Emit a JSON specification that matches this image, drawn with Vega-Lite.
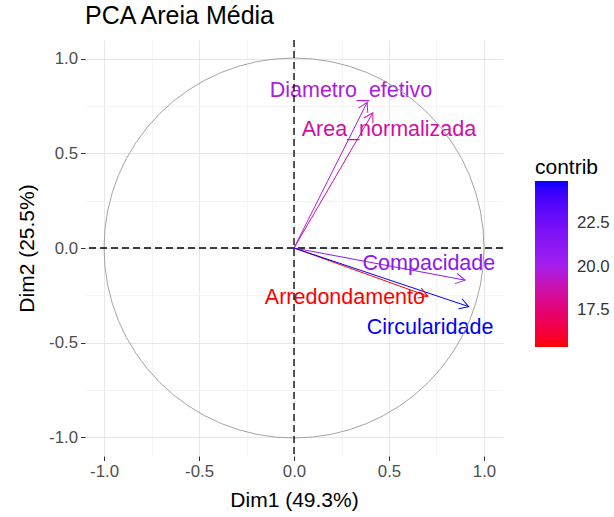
{
  "$schema": "https://vega.github.io/schema/vega-lite/v6.json",
  "width": 418,
  "height": 416,
  "autosize": "none",
  "padding": {"left": 85, "top": 40, "right": 111, "bottom": 61},
  "background": "white",
  "config": {
    "font": "Liberation Sans",
    "view": {"stroke": null},
    "axis": {
      "domain": false,
      "labelFont": "Liberation Sans",
      "labelFontSize": 16.8,
      "labelColor": "#4D4D4D",
      "titleFont": "Liberation Sans",
      "titleFontSize": 21,
      "titleFontWeight": "normal",
      "titleColor": "black",
      "tickColor": "#333333",
      "tickSize": 4.5,
      "tickWidth": 1,
      "labelPadding": 3,
      "gridColor": {"condition": {"test": "datum.value % 0.5 !== 0", "value": "#F1F1F1"}, "value": "#E6E6E6"},
      "gridWidth": {"condition": {"test": "datum.value % 0.5 !== 0", "value": 0.8}, "value": 1},
      "tickOpacity": {"condition": {"test": "datum.value % 0.5 !== 0", "value": 0}, "value": 1}
    }
  },
  "title": {
    "text": "PCA Areia Média",
    "anchor": "start",
    "frame": "group",
    "fontSize": 25,
    "font": "Liberation Sans",
    "fontWeight": "normal",
    "color": "black",
    "baseline": "alphabetic",
    "offset": -10
  },
  "data": {
    "values": [
      {"name": "Diametro_efetivo", "x": 0.385, "y": 0.77, "contrib": 19.9, "lx": 0.30, "ly": 0.83},
      {"name": "Area_normalizada", "x": 0.415, "y": 0.715, "contrib": 18.6, "lx": 0.50, "ly": 0.625},
      {"name": "Compacidade", "x": 0.90, "y": -0.17, "contrib": 21.2, "lx": 0.71, "ly": -0.085},
      {"name": "Arredondamento", "x": 0.705, "y": -0.255, "contrib": 15.4, "lx": 0.268, "ly": -0.265},
      {"name": "Circularidade", "x": 0.92, "y": -0.31, "contrib": 24.9, "lx": 0.716, "ly": -0.423}
    ]
  },
  "layer": [
    {
      "mark": {"type": "text", "font": "Liberation Sans", "fontSize": 21.5, "align": "center", "baseline": "middle"},
      "encoding": {
        "x": {"field": "lx", "type": "quantitative", "title": "Dim1 (49.3%)",
          "scale": {"domain": [-1.1, 1.1], "nice": false, "zero": false},
          "axis": {"values": [-1, -0.75, -0.5, -0.25, 0, 0.25, 0.5, 0.75, 1], "labelExpr": "datum.value % 0.5 === 0 ? replace(format(datum.value, '.1f'), '−', '-') : ''", "titlePadding": 9}},
        "y": {"field": "ly", "type": "quantitative", "title": "Dim2 (25.5%)",
          "scale": {"domain": [-1.1, 1.1], "nice": false, "zero": false},
          "axis": {"values": [-1, -0.75, -0.5, -0.25, 0, 0.25, 0.5, 0.75, 1], "labelExpr": "datum.value % 0.5 === 0 ? replace(format(datum.value, '.1f'), '−', '-') : ''", "titlePadding": 11}},
        "text": {"field": "name"},
        "fill": {"field": "contrib", "type": "quantitative",
          "scale": {"domain": [15.4, 20.15, 24.9], "range": ["#FF0000", "#A020F0", "#0000FF"], "interpolate": "lab"},
          "legend": {"type": "gradient", "orient": "none", "legendX": 450, "legendY": 117, "direction": "vertical",
            "title": "contrib", "titleFontSize": 21, "titleFont": "Liberation Sans", "titleFontWeight": "normal", "titleColor": "black",
            "titlePadding": 3,
            "gradientLength": 166, "gradientThickness": 33, "gradientStrokeWidth": 0,
            "values": [17.5, 20, 22.5], "format": ".1f",
            "labelFontSize": 16.8, "labelFont": "Liberation Sans", "labelColor": "#333333", "labelOffset": 9}}
      }
    },
    {
      "data": {"values": [{}]},
      "mark": {"type": "arc", "theta": 0, "theta2": 6.2832, "radius": 190, "radius2": 0, "fillOpacity": 0, "fill": "white", "stroke": "#9A9A9A", "strokeWidth": 0.9},
      "encoding": {
        "x": {"datum": 0, "type": "quantitative", "title": "Dim1 (49.3%)"},
        "y": {"datum": 0, "type": "quantitative", "title": "Dim2 (25.5%)"}
      }
    },
    {
      "data": {"values": [{}]},
      "mark": {"type": "rule", "color": "black", "strokeDash": [7, 4], "strokeWidth": 1.3},
      "encoding": {"x": {"datum": 0, "type": "quantitative", "title": "Dim1 (49.3%)"}}
    },
    {
      "data": {"values": [{}]},
      "mark": {"type": "rule", "color": "black", "strokeDash": [7, 4], "strokeWidth": 1.3},
      "encoding": {"y": {"datum": 0, "type": "quantitative", "title": "Dim2 (25.5%)"}}
    },
    {
      "mark": {"type": "rule", "strokeWidth": 1},
      "encoding": {
        "x": {"field": "x", "type": "quantitative", "title": "Dim1 (49.3%)"},
        "y": {"field": "y", "type": "quantitative", "title": "Dim2 (25.5%)"},
        "x2": {"datum": 0},
        "y2": {"datum": 0},
        "stroke": {"field": "contrib", "type": "quantitative",
          "scale": {"domain": [24.9, 20.15, 15.4], "range": ["#0000FF", "#A020F0", "#FF0000"], "interpolate": "lab"},
          "legend": null}
      }
    },
    {
      "transform": [{"calculate": "atan2(-datum.y, datum.x) * 180 / PI", "as": "ang"}],
      "mark": {"type": "point", "shape": "M-0.866,-0.5L0,0L-0.866,0.5", "filled": false, "size": 441, "strokeWidth": 1, "opacity": 1},
      "encoding": {
        "x": {"field": "x", "type": "quantitative", "title": "Dim1 (49.3%)"},
        "y": {"field": "y", "type": "quantitative", "title": "Dim2 (25.5%)"},
        "angle": {"field": "ang", "type": "quantitative", "scale": null},
        "stroke": {"field": "contrib", "type": "quantitative", "legend": null}
      }
    }
  ]
}
